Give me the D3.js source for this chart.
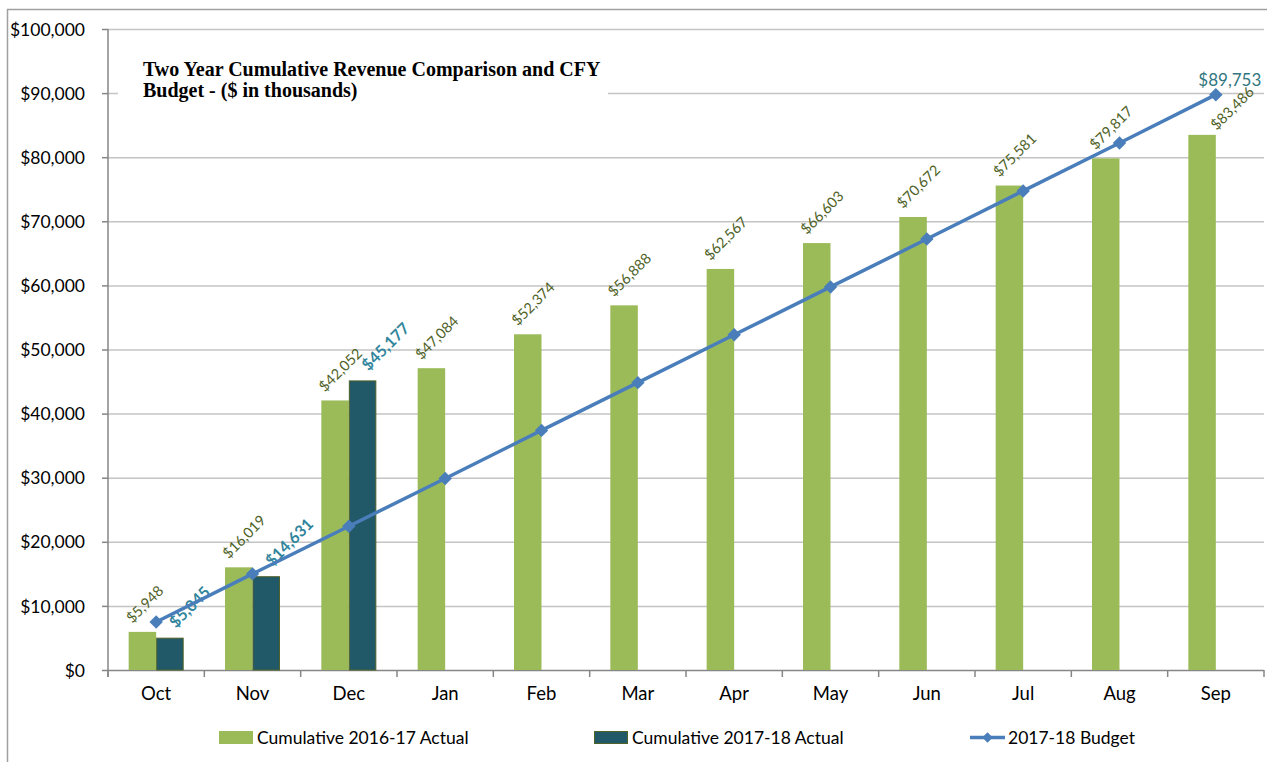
<!DOCTYPE html>
<html><head><meta charset="utf-8">
<script src="https://cdn.jsdelivr.net/npm/d3@7"></script>
<style>
html,body{margin:0;padding:0;background:#fff;}
svg{display:block;}
</style></head>
<body>
<svg id="c" width="1267" height="762"></svg>
<script>
const months = ["Oct","Nov","Dec","Jan","Feb","Mar","Apr","May","Jun","Jul","Aug","Sep"];
const actual1617 = [5948,16019,42052,47084,52374,56888,62567,66603,70672,75581,79817,83486];
const actual1718 = [5045,14631,45177];
const budget1718 = [7480,14990,22430,29880,37380,44830,52300,59760,67230,74740,82220,89753];
const yTicks = [0,10000,20000,30000,40000,50000,60000,70000,80000,90000,100000];
const seriesNames = ["Cumulative 2016-17 Actual","Cumulative 2017-18 Actual","2017-18 Budget"];
const titleLines = ["Two Year Cumulative Revenue Comparison and CFY","Budget - ($ in thousands)"];

const svg = d3.select("#c");
const font = "Lato, 'Open Sans', sans-serif";
const L = 108, R = 1264, T = 29, B = 670;
const cGreen = "#9bbb59", cDark = "#215968", cLine = "#4a7ebb";

// outer border
svg.append("rect").attr("x",7.5).attr("y",9.5).attr("width",1270).attr("height",770)
  .attr("fill","none").attr("stroke","#a0a0a0").attr("stroke-width",1.5);

const x = d3.scaleBand().domain(months).range([L,R]).paddingInner(0).paddingOuter(0);
const y = d3.scaleLinear().domain([0,100000]).range([B,T]);
const fmt = v => "$" + d3.format(",")(v);
const bw = 27.5;

// gridlines
svg.append("g").selectAll("line").data(yTicks.filter(d=>d>0)).join("line")
  .attr("x1",L).attr("x2",R).attr("y1",d=>y(d)+0.5).attr("y2",d=>y(d)+0.5)
  .attr("stroke","#c4c4c4").attr("stroke-width",1.5);

// title background + title
svg.append("rect").attr("x",118).attr("y",50).attr("width",490).attr("height",55).attr("fill","#fff");
svg.append("g").selectAll("text").data(titleLines).join("text")
  .attr("x",143).attr("y",(d,i)=>76+i*21)
  .attr("font-family","'Liberation Serif','Times New Roman',serif").attr("font-weight","bold")
  .attr("font-size",20).attr("fill","#000").text(d=>d);

// y axis
const yAxis = svg.append("g").attr("transform",`translate(${L},0)`)
  .call(d3.axisLeft(y).tickValues(yTicks).tickFormat(fmt).tickSize(6).tickPadding(17));
yAxis.select(".domain").attr("stroke","#868686").attr("stroke-width",1.5).attr("d",`M0,${T}V${B+7}`);
yAxis.selectAll(".tick line").attr("stroke","#868686").attr("stroke-width",1.5);
yAxis.selectAll(".tick text").attr("font-family",font).attr("font-size",17.5).attr("fill","#000").attr("dy","0.35em");

// x axis
const xAxis = svg.append("g").attr("transform",`translate(0,${B})`)
  .call(d3.axisBottom(x).tickSize(0).tickPadding(17));
xAxis.select(".domain").remove();
xAxis.append("line").attr("x1",L).attr("x2",R).attr("y1",0.5).attr("y2",0.5).attr("stroke","#868686").attr("stroke-width",1.5);
xAxis.selectAll(".tickmark").data(months.map((m,i)=>i).concat([12])).join("line").attr("class","tickmark")
  .attr("x1",i=>L+i*x.bandwidth()).attr("x2",i=>L+i*x.bandwidth()).attr("y1",0).attr("y2",7)
  .attr("stroke","#868686").attr("stroke-width",1.5);
xAxis.selectAll(".tick text").attr("font-family",font).attr("font-size",18.5).attr("fill","#000");

// bars
const cx = m => x(m) + x.bandwidth()/2;
const g1 = svg.append("g");
g1.selectAll("rect").data(actual1617).join("rect")
  .attr("x",(d,i)=>cx(months[i])-bw).attr("width",bw)
  .attr("y",d=>y(d)).attr("height",d=>B-y(d)).attr("fill",cGreen);
const g2 = svg.append("g");
g2.selectAll("rect").data(actual1718).join("rect")
  .attr("x",(d,i)=>cx(months[i])+0.5).attr("width",bw-1)
  .attr("y",d=>y(d)+0.5).attr("height",d=>B-y(d)-0.5).attr("fill",cDark)
  .attr("stroke","#4f6228").attr("stroke-width",1);

// bar labels (the last one is nudged right, clear of the budget marker)
const last = actual1617.length - 1;
svg.append("g").selectAll("text").data(actual1617).join("text")
  .attr("transform",(d,i)=>{
    const dx = i === last ? 1 : -bw/2 - 10;
    const dy = i === last ? -4 : -8;
    return `translate(${cx(months[i])+dx},${y(d)+dy}) rotate(-45)`;
  })
  .attr("font-family",font).attr("font-size",14.5).attr("fill","#4f6228").text(fmt);
svg.append("g").selectAll("text").data(actual1718).join("text")
  .attr("transform",(d,i)=>`translate(${cx(months[i])+bw/2+6},${y(d)-9}) rotate(-45)`)
  .attr("font-family",font).attr("font-size",16).attr("font-weight","bold").attr("fill","#31859c").text(fmt);

// budget line
const line = d3.line().x((d,i)=>cx(months[i])).y(d=>y(d));
svg.append("path").datum(budget1718).attr("d",line).attr("fill","none")
  .attr("stroke",cLine).attr("stroke-width",3.5);
svg.append("g").selectAll("path").data(budget1718).join("path")
  .attr("d",d3.symbol(d3.symbolSquare,90)())
  .attr("transform",(d,i)=>`translate(${cx(months[i])},${y(d)}) rotate(45)`)
  .attr("fill",cLine);
// budget end label
svg.append("text").datum(budget1718[11])
  .attr("x",cx("Sep")+14).attr("y",y(budget1718[11])-9).attr("text-anchor","middle")
  .attr("font-family",font).attr("font-size",17).attr("fill","#317680").text(fmt);

// legend
const leg = svg.append("g");
const lx = [219,594,970];
leg.append("rect").attr("x",lx[0]).attr("y",731).attr("width",34).attr("height",13).attr("fill",cGreen);
leg.append("rect").attr("x",lx[1]+0.5).attr("y",731.5).attr("width",33).attr("height",12).attr("fill",cDark).attr("stroke","#4f6228");
leg.append("line").attr("x1",lx[2]).attr("x2",lx[2]+35).attr("y1",737.5).attr("y2",737.5).attr("stroke",cLine).attr("stroke-width",3.5);
leg.append("path").attr("d",d3.symbol(d3.symbolSquare,55)()).attr("transform",`translate(${lx[2]+17.5},737.5) rotate(45)`).attr("fill",cLine);
leg.selectAll("text").data(seriesNames).join("text")
  .attr("x",(d,i)=>lx[i]+38).attr("y",744)
  .attr("font-family",font).attr("font-size",17.5).attr("fill","#000").text(d=>d);
</script>
</body></html>
